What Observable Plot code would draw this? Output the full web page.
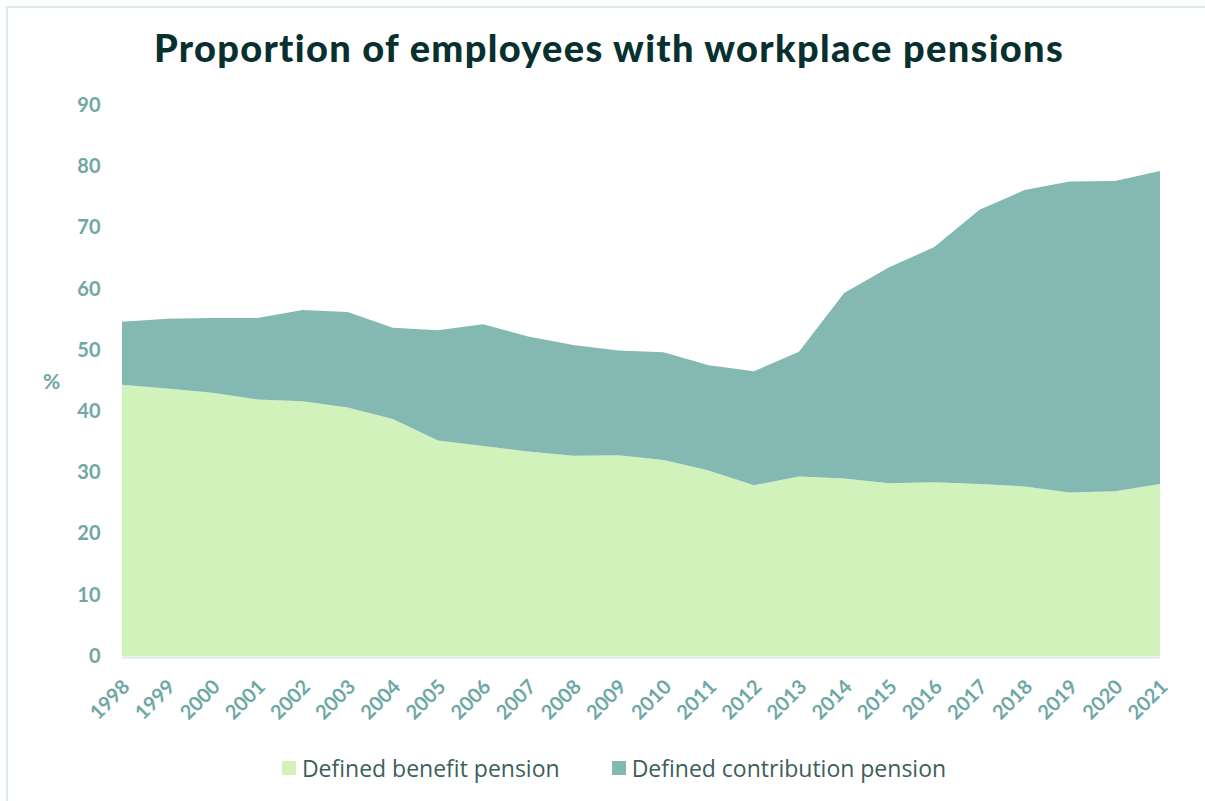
<!DOCTYPE html>
<html>
<head>
<meta charset="utf-8">
<script src="https://cdn.jsdelivr.net/npm/d3@7"></script>
<script src="https://cdn.jsdelivr.net/npm/@observablehq/plot@0.6"></script>
<style>
  html, body { margin: 0; padding: 0; background: #fff; }
  body { width: 1205px; height: 801px; position: relative; overflow: hidden; }
  #frame { position: absolute; left: 6px; top: 6px; width: 1220px; height: 820px;
           border-left: 2px solid #dceaea; border-top: 2px solid #dceaea; box-sizing: border-box; }
  #title { position: absolute; left: 0; top: 24px; width: 1218px; text-align: center;
           font-family: Lato, sans-serif; font-weight: 900; font-size: 38px; letter-spacing: 1.3px; color: #07302e; white-space: nowrap; }
  #chart { position: absolute; left: 0; top: 90px; }
  #legend { position: absolute; top: 752px; left: 0; width: 1228px; display: flex; justify-content: center;
            gap: 52px; font-family: "Open Sans", sans-serif; font-size: 23px; color: #3d5e5b; letter-spacing: 0px; }
  .item { display: flex; align-items: center; }
  .sw { width: 14px; height: 14px; margin-right: 6px; display: inline-block; }
  #ylab { position: absolute; left: 43px; top: 368px; font-family: Lato, sans-serif; font-weight: 700;
          font-size: 21px; color: #6ea8a5; }
</style>
</head>
<body>
<div id="frame"></div>
<div id="title">Proportion of employees with workplace pensions</div>
<div id="ylab">%</div>
<div id="chart"></div>
<div id="legend"></div>
<script>
const years = [1998,1999,2000,2001,2002,2003,2004,2005,2006,2007,2008,2009,2010,2011,2012,2013,2014,2015,2016,2017,2018,2019,2020,2021];
const definedBenefit = [44.3,43.7,43.0,41.9,41.6,40.6,38.7,35.2,34.3,33.4,32.7,32.8,32.0,30.3,27.9,29.3,29.0,28.2,28.4,28.1,27.7,26.7,26.9,28.1];
const totalWorkplace = [54.6,55.1,55.2,55.2,56.5,56.2,53.6,53.2,54.2,52.2,50.8,49.9,49.6,47.5,46.5,49.7,59.3,63.5,66.8,72.9,76.1,77.5,77.6,79.2];
const definedContribution = totalWorkplace.map((t, i) => +(t - definedBenefit[i]).toFixed(1));
const seriesNames = ["Defined benefit pension", "Defined contribution pension"];
const seriesColors = ["#d2f2bc", "#83b8b3"];
const yTicks = [0,10,20,30,40,50,60,70,80,90];

const data = [];
years.forEach((y, i) => {
  data.push({year: y, series: seriesNames[0], value: definedBenefit[i]});
  data.push({year: y, series: seriesNames[1], value: definedContribution[i]});
});

const chart = Plot.plot({
  width: 1205,
  height: 650,
  marginLeft: 122,
  marginRight: 45,
  marginTop: 15,
  marginBottom: 84,
  style: {background: "transparent", overflow: "visible"},
  x: {domain: [1998, 2021], ticks: years, tickFormat: d => String(d), label: null},
  y: {domain: [0, 90], ticks: yTicks, label: null},
  color: {domain: seriesNames, range: seriesColors},
  marks: [
    Plot.areaY(data, {x: "year", y: "value", fill: "series", order: seriesNames}),
    Plot.ruleY([0], {stroke: "#dbe9e9", strokeWidth: 2, dy: 1}),
    Plot.axisY({ticks: yTicks, tickSize: 0, tickPadding: 22, label: null,
      fontSize: 20, fontWeight: 700, fontFamily: "Lato, sans-serif", fill: "#6ea8a5"}),
    Plot.axisX({ticks: years, tickFormat: d => String(d), tickSize: 0, tickPadding: 27, tickRotate: -45, label: null,
      fontSize: 20, fontWeight: 700, fontFamily: "Lato, sans-serif", fill: "#6ea8a5", dx: 4})
  ]
});
document.getElementById("chart").appendChild(chart);

const legend = document.getElementById("legend");
seriesNames.forEach((name, i) => {
  const it = document.createElement("div");
  it.className = "item";
  const sw = document.createElement("span");
  sw.className = "sw";
  sw.style.background = seriesColors[i];
  it.appendChild(sw);
  it.appendChild(document.createTextNode(name));
  legend.appendChild(it);
});
</script>
</body>
</html>
